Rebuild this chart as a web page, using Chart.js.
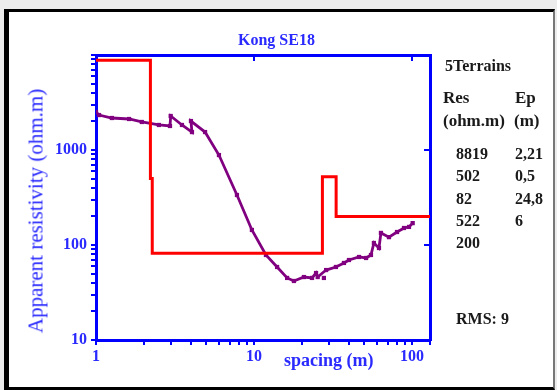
<!DOCTYPE html>
<html>
<head>
<meta charset="utf-8">
<script src="https://cdn.jsdelivr.net/npm/chart.js@4.4.1/dist/chart.umd.min.js"></script>
<style>
  body { margin: 0; background: #ececec; width: 557px; height: 390px; overflow: hidden; position: relative; font-family: "Liberation Serif", serif; }
  #frame { position: absolute; left: 4px; top: 9px; width: 544px; height: 375px; background: #fff;
           border-left: 5px solid #000; border-top: 3px solid #000; border-right: 2px solid #777; border-bottom: 3px solid #000; }
  #c { position: absolute; left: 0; top: 0; }
  .t { position: absolute; white-space: nowrap; font-weight: bold; line-height: 1; }
  .blue { color: #2a2aff; }
  .side { color: #1a1a1a; font-size: 16px; }
</style>
</head>
<body>
<div id="frame"></div>
<canvas id="c" width="557" height="390"></canvas>
<div class="t blue" style="left:238px; top:32px; font-size:16px;">Kong SE18</div>
<div class="t blue" style="left:284px; top:351px; font-size:18px;">spacing (m)</div>
<div class="t blue" style="left:36px; top:211px; font-size:21px; font-weight:normal; transform: translate(-50%,-50%) rotate(-90deg);">Apparent resistivity (ohm.m)</div>
<div id="side"></div>
<script>
// measured apparent resistivity (spacing m, ohm.m)
const spacing = [1.0, 1.045, 1.26, 1.62, 1.95, 2.5, 2.94, 2.97, 3.5, 4.05, 3.99, 4.9, 6.0, 7.8, 9.7, 11.9,
                 14.0, 16.2, 17.9, 20.7, 23.3, 24.7, 25.3, 28.6, 33.0, 37.1, 39.9, 46.2, 51.2, 55.0, 57.4,
                 61.8, 63.6, 71.5, 80.4, 89, 95.7, 101];
const rhoApp = [2512, 2333, 2172, 2120, 1972, 1834, 1790, 2280, 1834, 1545, 2018, 1545, 885, 336, 144, 78.5,
                58.7, 45, 41.8, 46, 45, 50.7, 46, 54.5, 58.7, 64.7, 69.5, 74.8, 73, 78.5, 105,
                93, 134, 121, 137, 151, 155, 170];
// isolated measurement off the curve
const outX = [27.7];
const outY = [45];

// 5 layer model (table values)
const layerRes = [8819, 502, 82, 522, 200];
const layerEp = [2.21, 0.5, 24.8, 6];
const rms = 9;
// layer boundaries as drawn on the plot (m)
const boundary = [2.21, 2.27, 27.1, 33.1];

const xTicks = [1, 2, 3, 4, 5, 6, 7, 8, 9, 10, 20, 30, 40, 50, 60, 70, 80, 90, 100, 130];
const yTicks = [10, 20, 30, 40, 50, 60, 70, 80, 90, 100, 200, 300, 400, 500, 600, 700, 800, 900, 1000,
                2000, 3000, 4000, 5000, 6000, 7000, 8000, 9000, 10000];
const xLabels = [1, 10, 100];
const yLabels = [10, 100, 1000];
const xMin = 1, xMax = 130, yMin = 10, yMax = 10000;

// step curve of the model
const model = [];
const edges = [xMin].concat(boundary, [xMax]);
for (let i = 0; i < layerRes.length; i++) {
    model.push({x: edges[i], y: layerRes[i]});
    model.push({x: edges[i + 1], y: layerRes[i]});
}

// side panel text
let html = '<div class="t side" style="left:445px; top:58px;">' + layerRes.length + 'Terrains</div>' +
    '<div class="t side" style="left:443px; top:89px; font-size:17px;">Res</div>' +
    '<div class="t side" style="left:515px; top:89px; font-size:17px;">Ep</div>' +
    '<div class="t side" style="left:443px; top:112px; font-size:17px;">(ohm.m)</div>' +
    '<div class="t side" style="left:514px; top:112px; font-size:17px;">(m)</div>';
for (let i = 0; i < layerRes.length; i++) {
    const top = 146 + i * 22.3;
    html += '<div class="t side" style="left:456px; top:' + top + 'px;">' + layerRes[i] + '</div>';
    if (i < layerEp.length)
        html += '<div class="t side" style="left:515px; top:' + top + 'px;">' + String(layerEp[i]).replace('.', ',') + '</div>';
}
html += '<div class="t side" style="left:456px; top:311px;">RMS: ' + rms + '</div>';
document.getElementById('side').innerHTML = html;

const blue = '#0000ff';
const tickFont = {family: 'Liberation Serif', weight: 'bold', size: 16};

function setTicks(vals) {
    return function (scale) { scale.ticks = vals.map(v => ({value: v})); };
}

new Chart(document.getElementById('c'), {
    type: 'line',
    data: {
        datasets: [
            {
                data: model, borderColor: '#ff0000', borderWidth: 3, pointRadius: 0, order: 0
            },
            {
                data: spacing.map((x, i) => ({x: x, y: rhoApp[i]})),
                borderColor: '#800080', backgroundColor: '#800080', borderWidth: 2.8,
                pointStyle: 'rect', pointRadius: 3, pointBorderWidth: 0, order: 1
            },
            {
                data: outX.map((x, i) => ({x: x, y: outY[i]})), showLine: false,
                backgroundColor: '#800080', pointStyle: 'rect', pointRadius: 3, pointBorderWidth: 0, order: 1
            }
        ]
    },
    options: {
        responsive: false,
        animation: false,
        layout: {padding: 0},
        plugins: {legend: {display: false}, tooltip: {enabled: false}},
        scales: {
            x: {
                type: 'logarithmic', position: 'bottom', min: xMin, max: xMax,
                afterFit: s => { s.height = 50; },
                afterBuildTicks: setTicks(xTicks),
                border: {color: blue, width: 3},
                grid: {drawOnChartArea: false, color: blue, lineWidth: 2, tickLength: 5},
                ticks: {
                    autoSkip: false, maxRotation: 0, padding: 2, color: '#2a2aff', font: tickFont,
                    callback: v => xLabels.includes(v) ? String(v) : ''
                }
            },
            x2: {
                type: 'logarithmic', position: 'top', min: xMin, max: xMax,
                afterFit: s => { s.height = 55; },
                afterBuildTicks: setTicks(xLabels),
                border: {color: blue, width: 3},
                grid: {drawOnChartArea: false, color: blue, lineWidth: 2, tickLength: -6},
                ticks: {display: false}
            },
            y: {
                type: 'logarithmic', position: 'left', min: yMin, max: yMax,
                afterFit: s => { s.width = 96; },
                afterBuildTicks: setTicks(yTicks),
                border: {color: blue, width: 3},
                grid: {drawOnChartArea: false, color: blue, lineWidth: 2, tickLength: 5},
                ticks: {
                    autoSkip: false, padding: 4, color: '#2a2aff', font: tickFont,
                    callback: v => yLabels.includes(v) ? String(v) : ''
                }
            },
            y2: {
                type: 'logarithmic', position: 'right', min: yMin, max: yMax,
                afterFit: s => { s.width = 127; },
                afterBuildTicks: setTicks(yLabels),
                border: {color: blue, width: 3},
                grid: {drawOnChartArea: false, color: blue, lineWidth: 2, tickLength: -6},
                ticks: {display: false}
            }
        }
    }
});
</script>
</body>
</html>
